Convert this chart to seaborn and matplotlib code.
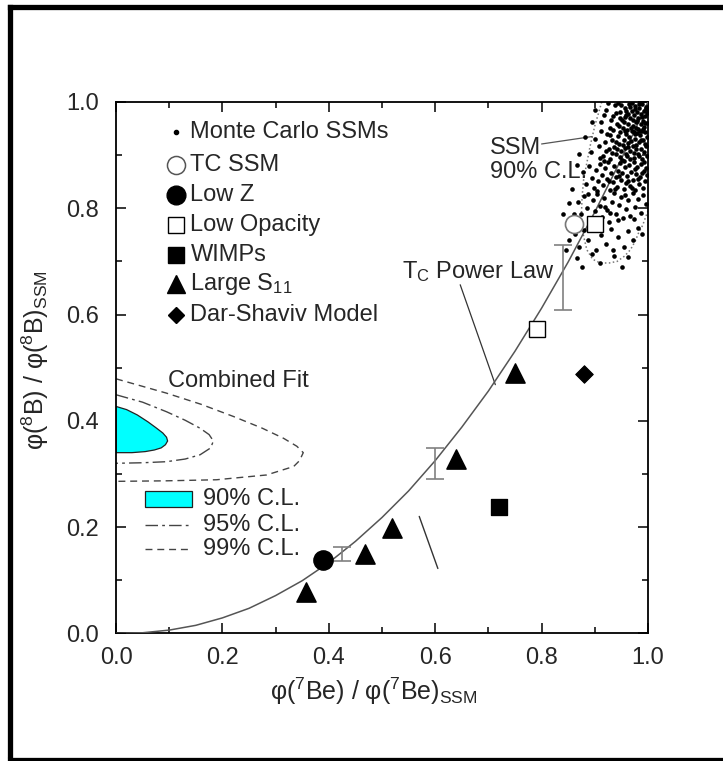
import numpy as np
import pandas as pd
import matplotlib
matplotlib.use("Agg")
import matplotlib.pyplot as plt
import seaborn as sns
from matplotlib.patches import Polygon, Rectangle
from matplotlib.lines import Line2D

# ---------------- data ----------------
# T_C power law curve
curve_x = [0.0, 0.05, 0.10, 0.15, 0.20, 0.25, 0.30, 0.35, 0.40, 0.45, 0.50,
           0.55, 0.60, 0.65, 0.70, 0.75, 0.80, 0.85, 0.90, 0.95, 1.00]
curve_y = [0.0, 0.001, 0.006, 0.015, 0.029, 0.047, 0.071, 0.099, 0.133, 0.173, 0.218,
           0.268, 0.325, 0.388, 0.456, 0.531, 0.612, 0.699, 0.793, 0.893, 1.000]

# models
tri_x = [0.358, 0.468, 0.518, 0.639, 0.750]
tri_y = [0.078, 0.149, 0.199, 0.328, 0.489]
lowz_x, lowz_y = [0.390], [0.138]
wimp_x, wimp_y = [0.719], [0.238]
dar_x, dar_y = [0.879], [0.488]
tc_x, tc_y = [0.860], [0.771]
lowop_x = [0.791, 0.900]
lowop_y = [0.572, 0.771]

# error bars
err_x = [0.425, 0.600, 0.840]
err_lo = [0.137, 0.290, 0.608]
err_hi = [0.163, 0.348, 0.731]

# Monte Carlo SSMs
mc_pts = [
 (0.912,0.962),(0.921,0.985),(0.928,0.951),(0.934,0.973),(0.938,0.994),(0.942,0.958),(0.947,0.981),(0.951,0.966),
 (0.953,0.952),(0.956,0.989),(0.959,0.975),(0.962,0.958),(0.964,0.997),(0.967,0.969),(0.969,0.984),(0.971,0.955),
 (0.973,0.976),(0.975,0.992),(0.977,0.962),(0.979,0.981),(0.981,0.950),(0.982,0.970),(0.984,0.988),(0.986,0.959),
 (0.987,0.978),(0.989,0.996),(0.990,0.965),(0.992,0.984),(0.993,0.953),(0.995,0.974),(0.996,0.991),(0.998,0.961),
 (0.999,0.980),(0.944,0.999),(0.931,0.966),(0.948,0.970),(0.955,0.963),(0.961,0.947),(0.966,0.991),(0.972,0.966),
 (0.978,0.952),(0.983,0.996),(0.988,0.971),(0.994,0.960),(0.997,0.986),(0.958,0.983),(0.963,0.978),(0.970,0.998),
 (0.976,0.986),(0.980,0.964),(0.985,0.945),(0.991,0.949),(0.940,0.980),(0.950,0.994),(0.918,0.975),(0.925,0.998),
 (0.968,0.952),(0.974,0.944),(0.957,0.971),(0.946,0.955),
 (0.893,0.905),(0.901,0.931),(0.907,0.917),(0.912,0.946),(0.916,0.899),(0.919,0.925),(0.923,0.940),(0.926,0.911),
 (0.929,0.893),(0.932,0.929),(0.935,0.948),(0.937,0.915),(0.940,0.902),(0.943,0.936),(0.945,0.921),(0.948,0.944),
 (0.950,0.907),(0.952,0.890),(0.954,0.928),(0.957,0.913),(0.959,0.940),(0.961,0.898),(0.963,0.922),(0.965,0.934),
 (0.967,0.908),(0.969,0.945),(0.971,0.917),(0.973,0.895),(0.975,0.930),(0.977,0.911),(0.979,0.941),(0.981,0.902),
 (0.983,0.924),(0.985,0.937),(0.987,0.912),(0.989,0.892),(0.991,0.928),(0.993,0.905),(0.995,0.943),(0.997,0.918),
 (0.999,0.899),(0.909,0.894),(0.921,0.908),(0.939,0.925),(0.947,0.896),(0.956,0.946),(0.962,0.916),(0.968,0.926),
 (0.974,0.904),(0.978,0.920),(0.984,0.898),(0.988,0.946),(0.994,0.921),(0.998,0.935),(0.953,0.919),(0.942,0.911),
 (0.933,0.904),(0.928,0.938),(0.958,0.903),(0.966,0.893),(0.976,0.939),(0.986,0.928),
 (0.878,0.868),(0.884,0.846),(0.889,0.879),(0.894,0.857),(0.898,0.838),(0.902,0.872),(0.906,0.851),(0.909,0.884),
 (0.913,0.862),(0.916,0.843),(0.919,0.875),(0.922,0.856),(0.925,0.887),(0.928,0.834),(0.931,0.866),(0.934,0.849),
 (0.936,0.879),(0.939,0.858),(0.942,0.840),(0.944,0.871),(0.947,0.885),(0.949,0.853),(0.952,0.866),(0.954,0.836),
 (0.957,0.877),(0.959,0.848),(0.961,0.861),(0.964,0.882),(0.966,0.842),(0.968,0.869),(0.971,0.853),(0.973,0.888),
 (0.975,0.835),(0.978,0.864),(0.980,0.877),(0.983,0.846),(0.985,0.858),(0.987,0.883),(0.990,0.839),(0.992,0.870),
 (0.995,0.852),(0.997,0.876),(0.999,0.863),(0.904,0.833),(0.918,0.889),(0.927,0.852),(0.938,0.836),(0.946,0.861),
 (0.955,0.889),(0.963,0.851),(0.969,0.838),(0.976,0.873),(0.982,0.856),(0.988,0.867),(0.993,0.887),
 (0.868,0.812),(0.874,0.790),(0.880,0.823),(0.886,0.801),(0.891,0.779),(0.896,0.815),(0.900,0.794),(0.905,0.827),
 (0.910,0.805),(0.914,0.783),(0.918,0.819),(0.923,0.797),(0.927,0.774),(0.932,0.811),(0.936,0.828),(0.940,0.789),
 (0.945,0.806),(0.949,0.822),(0.953,0.781),(0.958,0.799),(0.962,0.816),(0.967,0.786),(0.971,0.829),(0.976,0.803),
 (0.981,0.817),(0.986,0.792),(0.991,0.825),(0.996,0.808),(0.908,0.772),(0.929,0.792),(0.944,0.777),(0.957,0.825),
 (0.973,0.779),(0.888,0.827),(0.919,0.803),
 (0.862,0.752),(0.871,0.728),(0.879,0.760),(0.888,0.741),(0.897,0.766),(0.903,0.722),(0.912,0.749),(0.921,0.733),
 (0.930,0.761),(0.936,0.710),(0.944,0.745),(0.955,0.727),(0.963,0.758),(0.972,0.740),(0.866,0.707),(0.910,0.697),
 (0.935,0.722),(0.963,0.709),(0.981,0.762),(0.894,0.713),
 (0.840,0.790),(0.866,0.882),(0.851,0.741),(0.857,0.836),(0.871,0.902),(0.882,0.935),(0.895,0.962),(0.900,0.985),
 (0.860,0.789),(0.852,0.810),(0.846,0.722),(0.876,0.689),(0.952,0.690),(0.989,0.752),
]
mc_x = [p[0] for p in mc_pts]
mc_y = [p[1] for p in mc_pts]

# SSM 90% C.L. contour (visible part)
ssm_cx = [0.913, 0.900, 0.891, 0.884, 0.879, 0.876, 0.875, 0.876, 0.885, 0.896, 0.910,
          0.927, 0.942, 0.956, 0.967, 0.976, 0.982, 0.990, 0.995, 1.000]
ssm_cy = [1.000, 0.955, 0.916, 0.880, 0.854, 0.820, 0.791, 0.760, 0.722, 0.704, 0.697,
          0.697, 0.700, 0.710, 0.722, 0.738, 0.753, 0.768, 0.782, 0.795]

# Combined fit contours
c90_x = [0.0, 0.020, 0.040, 0.060, 0.075, 0.088, 0.095, 0.097, 0.093, 0.085, 0.072, 0.055, 0.030, 0.0]
c90_y = [0.427, 0.421, 0.411, 0.398, 0.387, 0.377, 0.369, 0.362, 0.355, 0.349, 0.345, 0.342, 0.340, 0.340]
c95_x = [0.0, 0.050, 0.095, 0.130, 0.158, 0.175, 0.183, 0.178, 0.158, 0.130, 0.095, 0.050, 0.0]
c95_y = [0.449, 0.435, 0.417, 0.401, 0.386, 0.374, 0.362, 0.349, 0.336, 0.328, 0.323, 0.321, 0.320]
c99_x = [0.0, 0.095, 0.160, 0.221, 0.275, 0.315, 0.340, 0.352, 0.345, 0.334, 0.283, 0.189, 0.095, 0.0]
c99_y = [0.479, 0.452, 0.431, 0.408, 0.386, 0.367, 0.352, 0.340, 0.325, 0.314, 0.298, 0.289, 0.287, 0.286]

# short line segment near (0.58, 0.17)
seg_x = [0.570, 0.605]
seg_y = [0.220, 0.122]

x_ticks = [0.0, 0.2, 0.4, 0.6, 0.8, 1.0]
y_ticks = [0.0, 0.2, 0.4, 0.6, 0.8, 1.0]
minor_ticks = [0.1, 0.3, 0.5, 0.7, 0.9]

legend_labels = ["Monte Carlo SSMs", "TC SSM", "Low Z", "Low Opacity", "WIMPs",
                 "Large S$_{\\mathregular{11}}$", "Dar-Shaviv Model"]
fit_labels = ["90% C.L.", "95% C.L.", "99% C.L."]

# ---------------- style ----------------
sns.set_theme(style="white")
plt.rcParams['font.family'] = ['Liberation Sans', 'DejaVu Sans']
plt.rcParams['mathtext.fontset'] = 'custom'
plt.rcParams['mathtext.rm'] = 'Liberation Sans'
plt.rcParams['mathtext.it'] = 'Liberation Sans:italic'
plt.rcParams['mathtext.bf'] = 'Liberation Sans:bold'

FS = 17
LFS = 18
fig = plt.figure(figsize=(7.23, 7.61), dpi=100)
ax = fig.add_axes([116/723, 1 - 633.3/761, 532/723, 531.3/761])
ax.set_xlim(0, 1)
ax.set_ylim(0, 1)

# frame around the figure
for (xs, ys) in [([10/723, 10/723], [6.5/761, 1 - 6.5/761]),
                 ([10/723, 1.0], [1 - 6.5/761, 1 - 6.5/761]),
                 ([10/723, 1.0], [1.5/761, 1.5/761])]:
    fig.add_artist(Line2D(xs, ys, transform=fig.transFigure, color='black', lw=3.8,
                          solid_capstyle='projecting'))

grey = '#555555'

# combined fit contours
ax.add_patch(Polygon(list(zip(c90_x, c90_y)), closed=True, facecolor='#00FFFF',
                     edgecolor='#222222', lw=0.9, zorder=2))
ax.plot(c95_x, c95_y, color='#444444', lw=1.0, dashes=[9, 3, 2, 3], zorder=2)
ax.plot(c99_x, c99_y, color='#444444', lw=1.0, dashes=[5, 3.5], zorder=2)

# SSM contour
ax.plot(ssm_cx, ssm_cy, color='#777777', lw=1.1, ls=(0, (1, 1.6)), zorder=2)

# power-law curve
sns.lineplot(x=curve_x, y=curve_y, ax=ax, color=grey, lw=1.1, sort=False, zorder=3)

# Monte Carlo points
sns.scatterplot(x=mc_x, y=mc_y, ax=ax, color='black', s=11, linewidth=0, zorder=3)

# error bars
for xx, lo, hi in zip(err_x, err_lo, err_hi):
    ax.errorbar([xx], [(lo + hi) / 2], yerr=[[(hi - lo) / 2], [(hi - lo) / 2]],
                fmt='none', ecolor='#808080', elinewidth=1.2, capsize=6.5, capthick=1.2, zorder=3)

# models
sns.scatterplot(x=tri_x, y=tri_y, ax=ax, marker='^', s=190, color='black', edgecolor='black', zorder=5)
sns.scatterplot(x=lowz_x, y=lowz_y, ax=ax, marker='o', s=190, color='black', edgecolor='black', zorder=5)
sns.scatterplot(x=wimp_x, y=wimp_y, ax=ax, marker='s', s=140, color='black', edgecolor='black', zorder=5)
sns.scatterplot(x=dar_x, y=dar_y, ax=ax, marker='D', s=80, color='black', edgecolor='black', zorder=5)
ax.plot(tc_x, tc_y, marker='o', ms=13, mfc='white', mec='#777777', mew=1.2, ls='none', zorder=5)
ax.plot(lowop_x, lowop_y, marker='s', ms=11, mfc='white', mec='black', mew=1.0, ls='none', zorder=5)

# short segment
ax.plot(seg_x, seg_y, color='#333333', lw=1.0, zorder=3)

# annotations
ax.text(0.537, 0.681, "T$_{\\mathregular{C}}$ Power Law", fontsize=FS, va='center', ha='left')
ax.plot([0.647, 0.713], [0.656, 0.468], color='#333333', lw=0.9)
ax.text(0.703, 0.914, "SSM", fontsize=FS, va='center', ha='left')
ax.text(0.703, 0.869, "90% C.L.", fontsize=FS, va='center', ha='left')
ax.plot([0.800, 0.895], [0.921, 0.935], color='#555555', lw=0.9)
ax.text(0.098, 0.474, "Combined Fit", fontsize=FS, va='center', ha='left')

# legend (manual)
leg_y = [0.944, 0.882, 0.825, 0.769, 0.712, 0.658, 0.600]
lx, tx = 0.113, 0.140
ax.plot([lx], [leg_y[0]], marker='o', ms=3.0, color='black', ls='none')
ax.plot([lx], [leg_y[1]], marker='o', ms=13, mfc='white', mec='#555555', mew=1.1, ls='none')
ax.plot([lx], [leg_y[2]], marker='o', ms=13.5, color='black', ls='none')
ax.plot([lx], [leg_y[3]], marker='s', ms=11, mfc='white', mec='black', mew=1.0, ls='none')
ax.plot([lx], [leg_y[4]], marker='s', ms=11.5, color='black', ls='none')
ax.plot([lx], [leg_y[5]], marker='^', ms=13, color='black', ls='none')
ax.plot([lx], [leg_y[6]], marker='D', ms=8.5, color='black', ls='none')
for yy, lab in zip(leg_y, legend_labels):
    ax.text(tx, yy, lab, fontsize=FS, va='center', ha='left')

# fit legend
ax.add_patch(Rectangle((0.0545, 0.238), 0.0885, 0.029, facecolor='#00FFFF',
                       edgecolor='#222222', lw=0.9))
ax.plot([0.054, 0.143], [0.204, 0.204], color='#444444', lw=1.0, dashes=[9, 3, 2, 3])
ax.plot([0.054, 0.143], [0.158, 0.158], color='#444444', lw=1.0, dashes=[5, 3.5])
for yy, lab in zip([0.252, 0.204, 0.158], fit_labels):
    ax.text(0.164, yy, lab, fontsize=FS, va='center', ha='left')

# axes styling
ax.set_xticks(x_ticks)
ax.set_yticks(y_ticks)
ax.set_xticks(minor_ticks, minor=True)
ax.set_yticks(minor_ticks, minor=True)
ax.set_xticklabels([f"{v:.1f}" for v in x_ticks])
ax.set_yticklabels([f"{v:.1f}" for v in y_ticks])
ax.tick_params(which='both', direction='in', top=True, right=True, bottom=True, left=True,
               color='black', width=1.1)
ax.tick_params(which='major', length=7, labelsize=FS)
ax.tick_params(which='minor', length=4)
ax.tick_params(axis='x', which='major', pad=10)
ax.tick_params(axis='y', which='major', pad=12)
for sp in ax.spines.values():
    sp.set_visible(True)
    sp.set_color('black')
    sp.set_linewidth(1.3)

ax.set_xlabel("φ($^{\\mathregular{7}}$Be) / φ($^{\\mathregular{7}}$Be)$_{\\mathregular{SSM}}$", fontsize=LFS)
ax.set_ylabel("φ($^{\\mathregular{8}}$B) / φ($^{\\mathregular{8}}$B)$_{\\mathregular{SSM}}$", fontsize=LFS)
ax.xaxis.set_label_coords(0.485, -0.08)
ax.yaxis.set_label_coords(-0.122, 0.515)

fig.savefig("out.png", dpi=100)
